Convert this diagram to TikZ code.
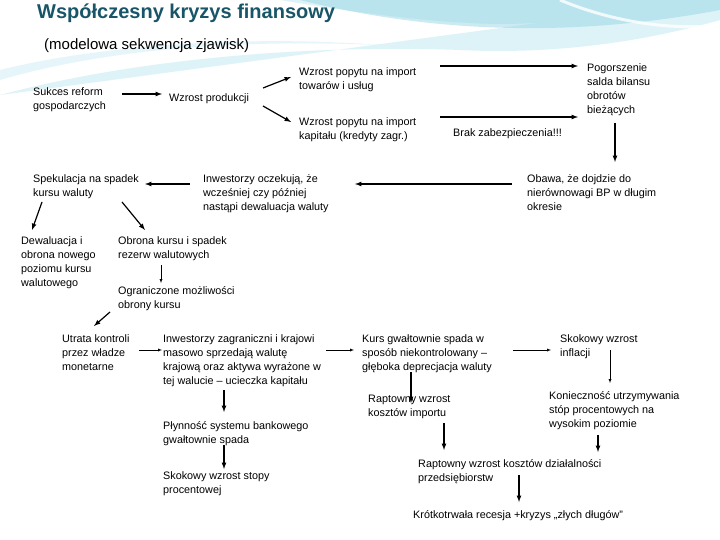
\documentclass[tikz,border=0pt]{standalone}
\usepackage{fontspec}
\setmainfont{Liberation Sans}
\begin{document}
\begin{tikzpicture}[x=1pt,y=-1pt,
  t/.style={anchor=north west,inner sep=0pt,align=left,font=\fontsize{10.8}{14}\selectfont},
  ar/.style={-latex,line width=1.2pt}]
\definecolor{titlec}{RGB}{25,85,105}
\definecolor{swa}{RGB}{190,232,240}
\definecolor{swb}{RGB}{140,210,228}
\useasboundingbox (0,0) rectangle (720,540);
\fill[white] (0,0) rectangle (720,540);
% background swoosh
\fill[swa,opacity=0.5] (0,95) .. controls (150,55) and (330,45) .. (460,50) .. controls (560,55) and (650,40) .. (720,20) -- (720,0) -- (280,0) .. controls (400,20) and (500,30) .. (560,20) -- cycle;
\fill[swb,opacity=0.45] (300,0) .. controls (420,30) and (560,40) .. (720,10) -- (720,0) -- cycle;
\fill[swa,opacity=0.4] (0,80) .. controls (120,45) and (260,40) .. (380,45) .. controls (250,35) and (100,45) .. (0,70) -- cycle;
\draw[white,line width=3pt,opacity=0.8] (560,0) .. controls (620,25) and (680,30) .. (720,25);
\node[anchor=north west,inner sep=0pt,text=titlec,font=\fontsize{20}{22}\selectfont\bfseries] (title) at (37,4) {Współczesny kryzys finansowy};
\node[anchor=north west,inner sep=0pt,font=\fontsize{15}{18}\selectfont] (sub) at (44,38) {(modelowa sekwencja zjawisk)};
% nodes
\node[t] (sukces) at (33,87) {Sukces reform\\gospodarczych};
\node[t] (prod) at (169,93) {Wzrost produkcji};
\node[t] (imp1) at (299,67) {Wzrost popytu na import\\towarów i usług};
\node[t] (imp2) at (299,117) {Wzrost popytu na import\\kapitału (kredyty zagr.)};
\node[t] (brak) at (453,128) {Brak zabezpieczenia!!!};
\node[t] (pog) at (587,63) {Pogorszenie\\salda bilansu\\obrotów\\bieżących};
\node[t] (obawa) at (527,174) {Obawa, że dojdzie do\\nierównowagi BP w długim\\okresie};
\node[t] (inw) at (203,174) {Inwestorzy oczekują, że\\wcześniej czy później\\nastąpi dewaluacja waluty};
\node[t] (spek) at (33,174) {Spekulacja na spadek\\kursu waluty};
\node[t] (dew) at (21,236) {Dewaluacja i\\obrona nowego\\poziomu kursu\\walutowego};
\node[t] (obr) at (118,236) {Obrona kursu i spadek\\rezerw walutowych};
\node[t] (ogr) at (118,286) {Ograniczone możliwości\\obrony kursu};
\node[t] (utr) at (62,334) {Utrata kontroli\\przez władze\\monetarne};
\node[t] (inz) at (163,334) {Inwestorzy zagraniczni i krajowi\\masowo sprzedają walutę\\krajową oraz aktywa wyrażone w\\tej walucie -- ucieczka kapitału};
\node[t] (kurs) at (362,334) {Kurs gwałtownie spada w\\sposób niekontrolowany --\\głęboka deprecjacja waluty};
\node[t] (inf) at (560,334) {Skokowy wzrost\\inflacji};
\node[t] (rimp) at (368,395) {Raptowny wzrost\\kosztów importu};
\node[t] (kon) at (549,391) {Konieczność utrzymywania\\stóp procentowych na\\wysokim poziomie};
\node[t] (pl) at (163,421) {Płynność systemu bankowego\\gwałtownie spada};
\node[t] (stopy) at (163,471) {Skokowy wzrost stopy\\procentowej};
\node[t] (dz) at (418,459) {Raptowny wzrost kosztów działalności\\przedsiębiorstw};
\node[t] (rec) at (413,510) {Krótkotrwała recesja +kryzys „złych długów''};
% arrows
\draw[ar] (122,94) -- (162,94);
\draw[ar] (263,88) -- (291,77);
\draw[ar] (263,106) -- (291,122);
\draw[ar] (440,66) -- (578,66);
\draw[ar] (440,117) -- (578,117);
\draw[ar] (615,123) -- (615,162);
\draw[ar] (512,184) -- (355,184);
\draw[ar] (190,184) -- (145,184);
\draw[ar] (42,202) -- (32,230);
\draw[ar] (122,202) -- (145,230);
\draw[-latex] (161,265) -- (161,283);
\draw[ar] (110,312) -- (94,326);
\draw[-latex] (139,350) -- (162,350);
\draw[-latex] (326,350) -- (354,350);
\draw[-latex] (513,350) -- (551,350);
\draw[-latex] (610,350) -- (610,383);
\draw[ar] (411,372) -- (411,403);
\draw[ar] (224,390) -- (224,412);
\draw[ar] (224,445) -- (224,469);
\draw[ar] (444,423) -- (444,450);
\draw[ar] (598,435) -- (598,452);
\draw[ar] (519,475) -- (519,502);
\end{tikzpicture}
\end{document}
